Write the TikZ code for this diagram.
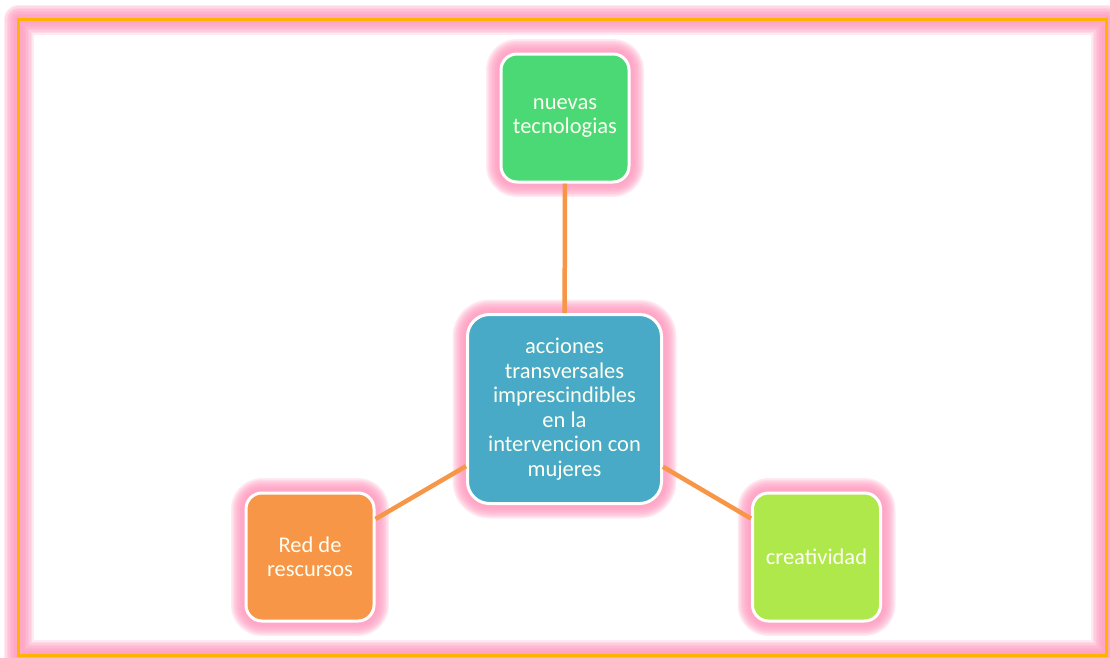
\documentclass[tikz,border=0pt]{standalone}
\usepackage{fontspec}
\setmainfont{Carlito}

\definecolor{glowpink}{HTML}{FF96BC}
\definecolor{frameorange}{HTML}{FFB300}
\definecolor{linkorange}{HTML}{F79646}
\definecolor{techgreen}{HTML}{4AD975}
\definecolor{actionblue}{HTML}{48AAC6}
\definecolor{redorange}{HTML}{F79646}
\definecolor{ideagreen}{HTML}{AEE84A}

\tikzset{
  halo/.style={preaction={draw=glowpink, line width=#1, opacity=0.2, line join=round}},
  glow/.style={halo=30pt, halo=27pt, halo=24pt, halo=21pt, halo=18pt,
    halo=15pt, halo=12pt, halo=9pt},
  box/.style={glow, draw=white, line width=3pt, rounded corners=16pt,
    minimum width=128pt, minimum height=128pt, align=center,
    text=white!95!yellow, font=\fontsize{22.5}{24.5}\selectfont, inner sep=2pt},
  link/.style={linkorange, line width=4.5pt}
}

\begin{document}
\begin{tikzpicture}[x=1pt, y=-1pt]
    \useasboundingbox (0,0) rectangle (1110,657);
    \clip (0,0) rectangle (1110,657);

    % frame
    \draw[glow, frameorange, line width=3pt] (18.5,19.5) rectangle (1106,655);

    \node[box, fill=actionblue, minimum width=194pt, minimum height=189pt,
          rounded corners=22pt] (acciones) at (564.5,409)
        {acciones\\transversales\\imprescindibles\\en la\\intervencion con\\mujeres};
    \node[box, fill=techgreen] (tecno) at (565,118) {nuevas\\tecnologias};
    \node[box, fill=redorange] (red) at (310,557) {Red de\\rescursos};
    \node[box, fill=ideagreen] (creat) at (816.5,557) {creatividad};

    \draw[link] (acciones) -- (tecno);
    \draw[link] (acciones) -- (red);
    \draw[link] (acciones) -- (creat);
\end{tikzpicture}
\end{document}
